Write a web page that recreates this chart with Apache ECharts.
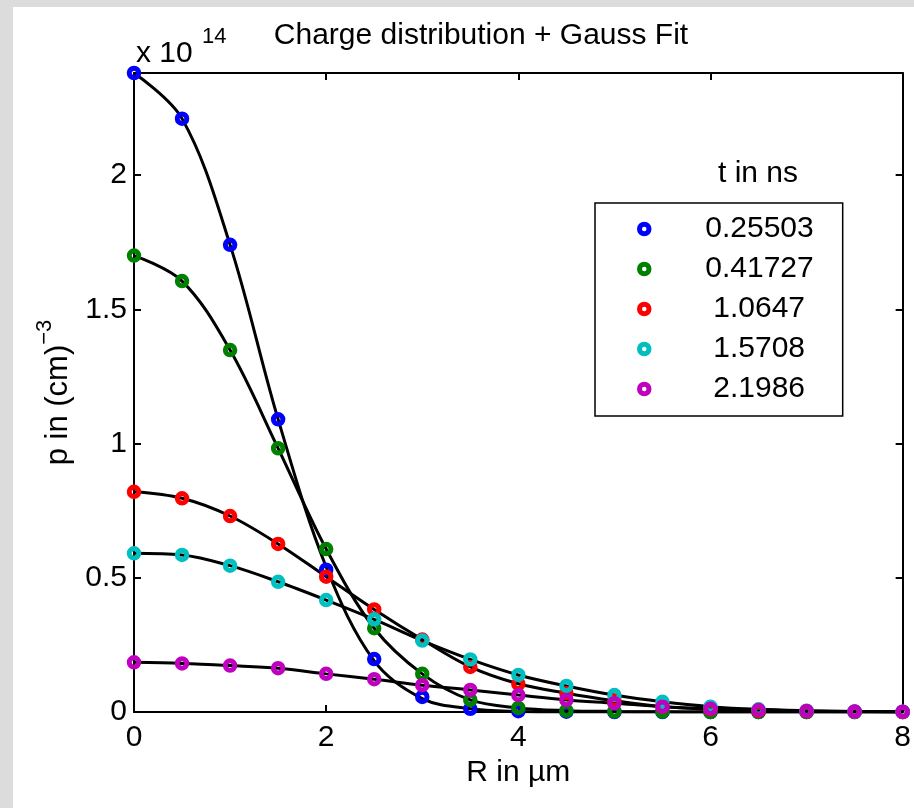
<!DOCTYPE html>
<html><head><meta charset="utf-8">
<script src="https://cdn.jsdelivr.net/npm/echarts@6/dist/echarts.min.js"></script>
<style>html,body{margin:0;padding:0;background:#fff}#c{width:914px;height:808px}</style>
</head><body><div id="c"></div>
<script>
// R positions (µm)
const R = [0,0.5,1,1.5,2,2.5,3,3.5,4,4.5,5,5.5,6,6.5,7,7.5,8];
const seriesNames = ['0.25503','0.41727','1.0647','1.5708','2.1986'];
const seriesColors = ['#0000ff','#008000','#ff0000','#00bfbf','#bf00bf'];
// measured charge density (×1e14 cm^-3)
const data0 = [2.38,2.21,1.74,1.09,0.53,0.197,0.056,0.012,0.003,0.001,0,0,0,0,0,0,0];
const data1 = [1.70,1.605,1.348,0.982,0.607,0.312,0.142,0.045,0.015,0.005,0.002,0.001,0,0,0,0,0];
const data2 = [0.82,0.796,0.73,0.626,0.504,0.382,0.27,0.168,0.105,0.07,0.042,0.02,0.01,0.004,0.002,0.001,0];
const data3 = [0.591,0.585,0.545,0.485,0.417,0.345,0.266,0.196,0.138,0.097,0.063,0.038,0.02,0.01,0.005,0.002,0.001];
const data4 = [0.185,0.181,0.173,0.163,0.142,0.122,0.10,0.082,0.063,0.045,0.033,0.02,0.012,0.007,0.004,0.002,0.001];
// Gauss fit curves, read at the same R positions
const fit0 = [2.38,2.21,1.74,1.09,0.54,0.19,0.05,0.012,0.002,0,0,0,0,0,0,0,0];
const fit1 = [1.70,1.605,1.348,0.982,0.607,0.312,0.142,0.045,0.015,0.005,0.002,0.001,0,0,0,0,0];
const fit2 = [0.82,0.796,0.73,0.626,0.504,0.382,0.27,0.168,0.105,0.07,0.042,0.02,0.01,0.004,0.002,0.001,0];
const fit3 = [0.591,0.585,0.545,0.485,0.417,0.345,0.266,0.196,0.138,0.097,0.063,0.038,0.02,0.01,0.005,0.002,0.001];
const fit4 = [0.185,0.181,0.173,0.163,0.142,0.122,0.10,0.082,0.063,0.045,0.033,0.02,0.012,0.007,0.004,0.002,0.001];
const xTickStep = 2;
const yTickStep = 0.5;
const yMax = 2.38;

const allData = [data0,data1,data2,data3,data4];
const allFits = [fit0,fit1,fit2,fit3,fit4];
const FONT = '"Liberation Sans", Arial, Helvetica, sans-serif';
const pairs = arr => R.map((r,i)=>[r, arr[i]]);

const series = [];
allFits.forEach((f,i)=>{
  series.push({
    name:'fit '+seriesNames[i], type:'line', data:pairs(f), showSymbol:false, symbol:'none',
    smooth:0.35, silent:true, z:2,
    lineStyle:{color:'#000', width:3}
  });
});
allData.forEach((d,i)=>{
  series.push({
    name:seriesNames[i], type:'scatter', data:pairs(d), symbol:'circle', symbolSize:9.5, z:3+i,
    itemStyle:{color:'rgba(255,255,255,0)', borderColor:seriesColors[i], borderWidth:5, opacity:1},
    emphasis:{disabled:true}
  });
});

const axisCommon = {
  axisLine:{onZero:false, lineStyle:{color:'#000', width:2}},
  axisTick:{inside:true, length:7, lineStyle:{color:'#000', width:2}},
  splitLine:{show:false}
};

const chart = echarts.init(document.getElementById('c'), null, {renderer:'canvas'});
chart.setOption({
  backgroundColor:'#fff',
  animation:false,
  title:{text:'Charge distribution + Gauss Fit', left:481, top:21, textAlign:'center', padding:0,
    textStyle:{fontFamily:FONT, fontSize:30, fontWeight:'normal', color:'#000'}},
  grid:{left:134, right:10, top:73, bottom:96},
  xAxis:[
    Object.assign({type:'value', min:0, max:8, interval:xTickStep, position:'bottom',
      axisLabel:{fontFamily:FONT, fontSize:30, color:'#000', margin:11},
      name:'R in µm', nameLocation:'middle', nameGap:46,
      nameTextStyle:{fontFamily:FONT, fontSize:30, color:'#000'}}, axisCommon),
    Object.assign({type:'value', min:0, max:8, interval:xTickStep, position:'top',
      axisLabel:{show:false}}, axisCommon)
  ],
  yAxis:[
    Object.assign({type:'value', min:0, max:yMax, interval:yTickStep, position:'left',
      axisLabel:{fontFamily:FONT, fontSize:30, color:'#000', margin:7, showMaxLabel:false},
      name:'{b|p in (cm)}{s|−3}', nameLocation:'middle', nameGap:56, nameRotate:90,
      nameTextStyle:{fontFamily:FONT, fontSize:31, color:'#000',
        rich:{b:{fontFamily:FONT, fontSize:31, color:'#000', lineHeight:40, verticalAlign:'bottom'},
              s:{fontFamily:FONT, fontSize:22, color:'#000', lineHeight:40, verticalAlign:'top'}}}}, axisCommon),
    Object.assign({type:'value', min:0, max:yMax, interval:yTickStep, position:'right',
      axisLabel:{show:false}}, axisCommon)
  ],
  legend:{
    data:seriesNames, orient:'vertical', left:595, top:203,
    padding:[11,29,12,42], itemWidth:94, itemHeight:9.5, itemGap:10,
    borderColor:'#000', borderWidth:1.5, backgroundColor:'#fff',
    selectedMode:false,
    itemStyle:{borderWidth:5},
    formatter: n => (n.length===7 ? '{a|'+n+'}' : '{b|'+n+'}'),
    textStyle:{fontFamily:FONT, fontSize:30, color:'#000', lineHeight:30,
      rich:{a:{fontFamily:FONT, fontSize:30, color:'#000', lineHeight:30, padding:[0,0,0,9]},
            b:{fontFamily:FONT, fontSize:30, color:'#000', lineHeight:30, padding:[0,0,0,17]}}}
  },
  graphic:[
    {type:'rect', left:0, top:0, shape:{width:13, height:808}, style:{fill:'#dcdcdc'}, silent:true},
    {type:'rect', left:0, top:0, shape:{width:914, height:7}, style:{fill:'#dcdcdc'}, silent:true},
    {type:'text', x:758, y:174, style:{text:'t in ns', fontFamily:FONT, fontSize:30, fill:'#000', align:'center', verticalAlign:'middle'}},
    {type:'text', x:136, y:54, style:{text:'x 10', fontFamily:FONT, fontSize:30, fill:'#000', align:'left', verticalAlign:'middle'}},
    {type:'text', x:202, y:37, style:{text:'14', fontFamily:FONT, fontSize:22, fill:'#000', align:'left', verticalAlign:'middle'}}
  ],
  series:series
});
</script></body></html>
